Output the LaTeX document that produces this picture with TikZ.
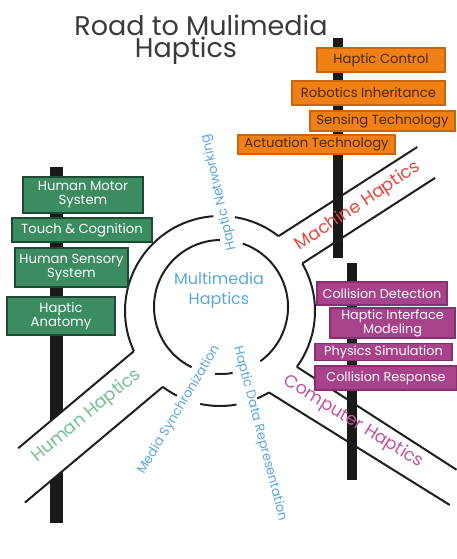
\documentclass[tikz,border=0pt]{standalone}
\usepackage{fontspec}
\setmainfont{Poppins}
\usepackage{tikz}
\usetikzlibrary{calc}
\definecolor{signorange}{HTML}{F07F16}
\definecolor{signorangeline}{HTML}{C9650C}
\definecolor{signorangetext}{HTML}{4A2A10}
\definecolor{signgreen}{HTML}{3C8C62}
\definecolor{signgreenline}{HTML}{1E4A33}
\definecolor{signpurple}{HTML}{A8438B}
\definecolor{signpurpleline}{HTML}{86306D}
\definecolor{labelblue}{HTML}{5AA6DE}
\definecolor{labelred}{HTML}{E5483E}
\definecolor{labelgreen}{HTML}{74BF93}
\definecolor{labelpink}{HTML}{C0559B}
\definecolor{titlegray}{HTML}{3A3A3A}
\NewDocumentCommand{\signfont}{}{\fontsize{13.2}{13}\selectfont}
\tikzset{/RMH/S/sign/.style={
	draw, line width=1.2pt, inner sep=0.5pt, align=center, font=\signfont
}}
\tikzset{/RMH/S/orange/.style={/RMH/S/sign, fill=signorange, draw=signorangeline, text=signorangetext}}
\tikzset{/RMH/S/green/.style={/RMH/S/sign, fill=signgreen, draw=signgreenline, text=white, font=\fontsize{13.2}{14}\selectfont}}
\tikzset{/RMH/S/purple/.style={/RMH/S/sign, fill=signpurple, draw=signpurpleline, text=white, font=\fontsize{12.8}{12}\selectfont}}
\tikzset{/RMH/S/pole/.style={fill=black!90}}
\tikzset{/RMH/S/edge/.style={draw=black!88, line width=2pt}}
\tikzset{/RMH/S/road/.style={font=\fontsize{17.5}{17}\selectfont, inner sep=0}}
\tikzset{/RMH/S/lane/.style={text=labelblue, font=\fontsize{13}{13}\selectfont, inner sep=0}}

\begin{document}
\begin{tikzpicture}[x=1pt, y=1pt]
				\useasboundingbox (0,0) rectangle (456,-559);
				% title
				\path (201,-25) node[text=titlegray, font=\fontsize{27}{27}\selectfont, inner sep=0] (title) {Road to Mulimedia};
				\path (title.south) ++ (-15,-1) node[anchor=north, text=titlegray, font=\fontsize{27}{27}\selectfont, inner sep=0] (title2) {Haptics};
				% roundabout
				\coordinate (ring) at (220,-311);
				\coordinate (hub) at (221,-307);
				\coordinate (hu0) at ($(ring)+(205:95)$);
				\coordinate (hl0) at ($(ring)+(233:95)$);
				\coordinate (hu1) at ($(hu0)+(220:151)$);
				\coordinate (hl1) at ($(hl0)+(220:180)$);
				\coordinate (mu0) at ($(ring)+(52:95)$);
				\coordinate (ml0) at ($(ring)+(30:95)$);
				\coordinate (cu0) at ($(ring)+(-36:95)$);
				\coordinate (cl0) at ($(ring)+(-59:95)$);
				% posts
				\path[/RMH/S/pole] (49.5,-167) rectangle (62.5,-523);
				\path[/RMH/S/pole] (333,-38) rectangle (343,-258);
				\path[/RMH/S/pole] (347,-263) rectangle (357,-480);
				\fill[white] (hu0) -- (hu1) -- (hl1) -- (hl0) -- cycle;
				% outer ring
				\draw[/RMH/S/edge] ($(ring)+(94:95)$) arc[start angle=94, end angle=205, radius=95];
				\draw[/RMH/S/edge] ($(ring)+(81:95)$) arc[start angle=81, end angle=52, radius=95];
				\draw[/RMH/S/edge] (ml0) arc[start angle=30, end angle=-36, radius=95];
				\draw[/RMH/S/edge] (hl0) arc[start angle=233, end angle=243, radius=95];
				\draw[/RMH/S/edge] ($(ring)+(258:95)$) arc[start angle=258, end angle=280, radius=95];
				\draw[/RMH/S/edge] ($(ring)+(-67:95)$) arc[start angle=-67, end angle=-59, radius=95];
				% inner ring
				\draw[/RMH/S/edge] ($(hub)+(91:67)$) arc[start angle=91, end angle=244, radius=67];
				\draw[/RMH/S/edge] ($(hub)+(71:67)$) arc[start angle=71, end angle=-54, radius=67];
				\draw[/RMH/S/edge] ($(hub)+(265:67)$) arc[start angle=265, end angle=280, radius=67];
				% roads
				\draw[/RMH/S/edge] (hu0) -- (hu1);
				\draw[/RMH/S/edge] (hl0) -- (hl1);
				\draw[/RMH/S/edge] (mu0) -- ++ (32.7:165);
				\draw[/RMH/S/edge] (ml0) -- ++ (32.8:158);
				\draw[/RMH/S/edge] (cu0) -- ++ (-32.8:190);
				\draw[/RMH/S/edge] (cl0) -- ++ (-31.9:213);
				% machine signs
				\path (381,-60) node[/RMH/S/orange, minimum width=128, minimum height=24] (hc) {Haptic Control};
				\path (368.5,-93) node[/RMH/S/orange, minimum width=153, minimum height=24] (ri) {Robotics Inheritance};
				\path (382.5,-121) node[/RMH/S/orange, minimum width=145, minimum height=20] (st) {Sensing Technology};
				\path (316.5,-144.5) node[/RMH/S/orange, minimum width=157, minimum height=19] (at) {Actuation Technology};
				% human signs
				\path (83,-195) node[/RMH/S/green, minimum width=120, minimum height=36] (hms) {Human Motor\\System};
				\path (82,-230) node[/RMH/S/green, minimum width=140, minimum height=24] (tc) {Touch \& Cognition};
				\path (71.5,-267.5) node[/RMH/S/green, minimum width=113, minimum height=39] (hss) {Human Sensory\\System};
				\path (61,-316) node[/RMH/S/green, minimum width=108, minimum height=38] (ha) {Haptic\\Anatomy};
				% computer signs
				\path (382,-293.5) node[/RMH/S/purple, minimum width=130, minimum height=23] (cd) {Collision Detection};
				\path (392.5,-323) node[/RMH/S/purple, minimum width=125, minimum height=30, font=\fontsize{12.8}{11}\selectfont] (him) {Haptic Interface\\Modeling};
				\path (383.5,-352) node[/RMH/S/purple, minimum width=137, minimum height=17] (ps) {Physics Simulation};
				\path (386,-378) node[/RMH/S/purple, minimum width=142, minimum height=24] (cr) {Collision Response};
				% labels
				\path (219,-290) node[text=labelblue, font=\fontsize{16}{20}\selectfont, align=center, inner sep=0] (mh) {Multimedia\\Haptics};
				\path (219,-192.5) node[/RMH/S/lane, rotate=103] (hn) {Haptic Networking};
				\path (179,-410) node[/RMH/S/lane, rotate=59] (ms) {Media Synchronization};
				\path (260,-433.5) node[/RMH/S/lane, rotate=-75.4] (hdr) {Haptic Data Representation};
				\path (358,-206.5) node[/RMH/S/road, text=labelred, rotate=33.8] (mach) {Machine Haptics};
				\path (86.5,-416) node[/RMH/S/road, text=labelgreen, rotate=39.4] (hum) {Human Haptics};
				\path (353.5,-422) node[/RMH/S/road, text=labelpink, rotate=-31.5] (comp) {Computer Haptics};
			\end{tikzpicture}
\end{document}
